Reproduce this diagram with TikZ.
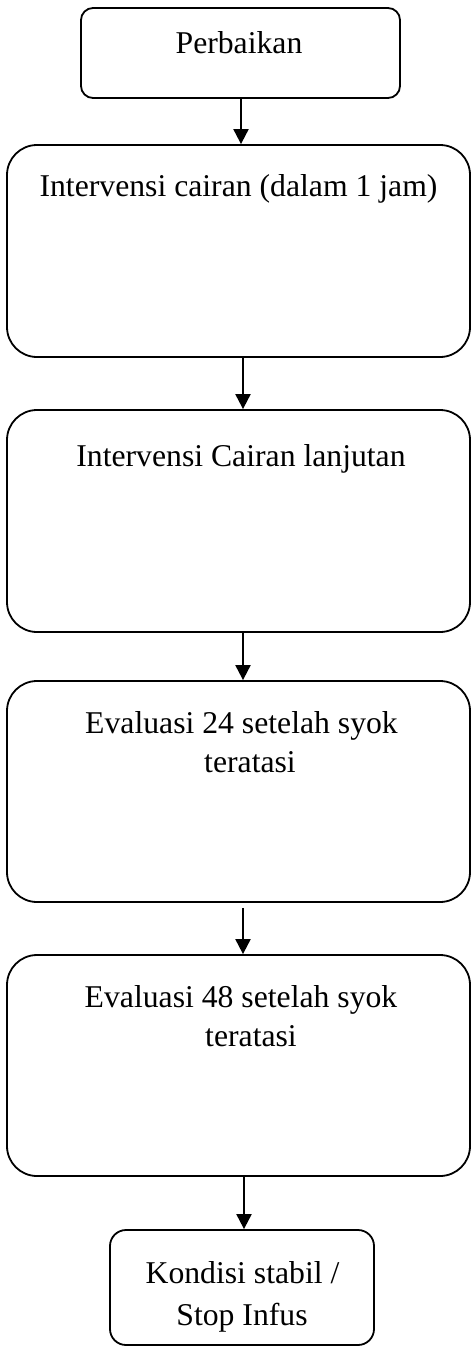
\documentclass[tikz,border=0pt]{standalone}
\usepackage{fontspec}
\setmainfont{Liberation Serif}
\usetikzlibrary{arrows.meta}
\begin{document}
\begin{tikzpicture}[x=1pt,y=-1pt,
  box/.style={draw=black,line width=1.8pt,fill=none,inner sep=0pt},
  txt/.style={anchor=base,inner sep=0pt,font=\fontsize{31.7pt}{38pt}\selectfont},
  arr/.style={line width=2pt,-{Triangle[width=15pt,length=15pt]}}]
\useasboundingbox (0,0) rectangle (471,1346);
% boxes
\node[box,rounded corners=12pt,minimum width=319pt,minimum height=90pt] (b1) at (240.5,53) {};
\node[box,rounded corners=30pt,minimum width=463pt,minimum height=212pt] (b2) at (238.5,251) {};
\node[box,rounded corners=30pt,minimum width=463pt,minimum height=222pt] (b3) at (238.5,521) {};
\node[box,rounded corners=30pt,minimum width=463pt,minimum height=221pt] (b4) at (238.5,791.5) {};
\node[box,rounded corners=30pt,minimum width=463pt,minimum height=221pt] (b5) at (238.5,1065.5) {};
\node[box,rounded corners=16pt,minimum width=264pt,minimum height=115pt] (b6) at (242,1287.5) {};
% texts
\node[txt] (t1) at (239,53) {Perbaikan};
\node[txt] (t2) at (238.5,196) {Intervensi cairan (dalam 1 jam)};
\node[txt] (t3) at (241,466) {Intervensi Cairan lanjutan};
\node[txt] (t4a) at (241.5,733) {Evaluasi 24 setelah syok};
\node[txt] (t4b) at (250,772) {teratasi};
\node[txt] (t5a) at (241,1007) {Evaluasi 48 setelah syok};
\node[txt] (t5b) at (251,1046) {teratasi};
\node[txt] (t6a) at (242.5,1283) {Kondisi stabil /};
\node[txt] (t6b) at (242,1325) {Stop Infus};
% arrows
\draw[arr] ([xshift=0.5pt]b1.south) -- ([xshift=0.5pt]b1.south |- b2.north);
\draw[arr] ([xshift=4.5pt]b2.south) -- ([xshift=4.5pt]b3.north);
\draw[arr] ([xshift=4.5pt]b3.south) -- ([xshift=4.5pt]b4.north);
\draw[arr] ([xshift=4.5pt,yshift=-5pt]b4.south) -- ([xshift=4.5pt]b5.north);
\draw[arr] ([xshift=2pt]b6.north |- b5.south) -- ([xshift=2pt]b6.north);
\end{tikzpicture}
\end{document}
